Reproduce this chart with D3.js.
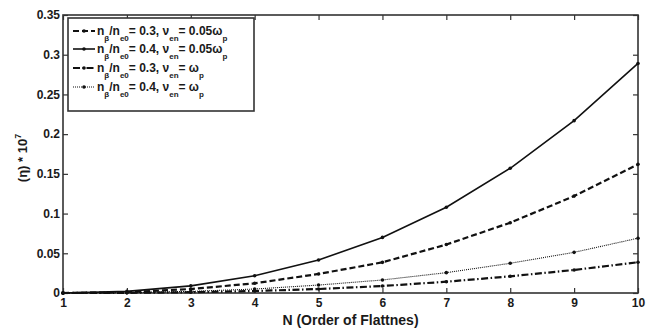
<!DOCTYPE html>
<html>
<head>
<meta charset="utf-8">
<script src="https://cdn.jsdelivr.net/npm/d3@7"></script>
<style>
  body { margin: 0; background: white; }
  text { font-family: "Liberation Sans", Arial, sans-serif; font-weight: bold; fill: #1a1a1a; }
</style>
</head>
<body>
<div id="container"></div>
<script>
let w = 657;
let h = 331;

let nValues = [1, 2, 3, 4, 5, 6, 7, 8, 9, 10];
let xTicks = [1, 2, 3, 4, 5, 6, 7, 8, 9, 10];
let yTicks = [0, 0.05, 0.1, 0.15, 0.2, 0.25, 0.3, 0.35];
let yTickLabels = ["0", "0.05", "0.1", "0.15", "0.2", "0.25", "0.3", "0.35"];

// eta * 1e7 for each N
let etaA = [0, 0.001, 0.005, 0.0122, 0.024, 0.0386, 0.061, 0.0885, 0.122, 0.162];  // nb/ne0=0.3, nu=0.05wp
let etaB = [0, 0.002, 0.009, 0.0218, 0.0415, 0.070, 0.108, 0.157, 0.217, 0.289];   // nb/ne0=0.4, nu=0.05wp
let etaC = [0, 0.0002, 0.001, 0.0025, 0.005, 0.0088, 0.0142, 0.021, 0.029, 0.0387]; // nb/ne0=0.3, nu=wp
let etaD = [0, 0.0005, 0.002, 0.005, 0.010, 0.0164, 0.0256, 0.0374, 0.0512, 0.069]; // nb/ne0=0.4, nu=wp

let ratioLabels = ["0.3", "0.4", "0.3", "0.4"];
let nuLabels = ["0.05", "0.05", "", ""];

let margin = { left: 63, right: 19, top: 15, bottom: 38 };

let viz = d3.select("#container")
  .append("svg")
  .attr("width", w)
  .attr("height", h)
  .style("background-color", "white");

let x = d3.scaleLinear().domain([1, 10]).range([margin.left, w - margin.right]);
let y = d3.scaleLinear().domain([0, 0.35]).range([h - margin.bottom, margin.top]);

let series = [
  { values: etaA, dash: "6,3", width: 2.2, ratio: ratioLabels[0], nu: nuLabels[0] },
  { values: etaB, dash: null, width: 1.6, ratio: ratioLabels[1], nu: nuLabels[1] },
  { values: etaC, dash: "7,2.5,1.5,2.5", width: 2.2, ratio: ratioLabels[2], nu: nuLabels[2] },
  { values: etaD, dash: "1,1", width: 1.1, ratio: ratioLabels[3], nu: nuLabels[3] }
];

// axes, MATLAB style with inward ticks on all sides
let tickLen = 5;
viz.append("g")
  .attr("transform", "translate(0," + y(0) + ")")
  .call(d3.axisBottom(x).tickValues(xTicks).tickSize(-tickLen).tickPadding(5).tickFormat(d3.format("d")))
  .call(g => g.select(".domain").remove())
  .call(g => g.selectAll("text").style("font-size", "12px").style("font-family", "Liberation Sans, Arial").style("font-weight", "bold").attr("fill", "#1a1a1a"));

viz.append("g")
  .attr("transform", "translate(0," + y(0.35) + ")")
  .call(d3.axisTop(x).tickValues(xTicks).tickSize(-tickLen).tickFormat(""))
  .call(g => g.select(".domain").remove());

viz.append("g")
  .attr("transform", "translate(" + x(1) + ",0)")
  .call(d3.axisLeft(y).tickValues(yTicks).tickSize(-tickLen).tickPadding(3).tickFormat((d, i) => yTickLabels[i]))
  .call(g => g.select(".domain").remove())
  .call(g => g.selectAll("text").style("font-size", "12px").style("font-family", "Liberation Sans, Arial").style("font-weight", "bold").attr("fill", "#1a1a1a"));

viz.append("g")
  .attr("transform", "translate(" + x(10) + ",0)")
  .call(d3.axisRight(y).tickValues(yTicks).tickSize(-tickLen).tickFormat(""))
  .call(g => g.select(".domain").remove());

viz.selectAll(".tick line").attr("stroke", "#333").attr("stroke-width", 1.2);

viz.append("rect")
  .attr("x", x(1))
  .attr("y", y(0.35))
  .attr("width", x(10) - x(1))
  .attr("height", y(0) - y(0.35))
  .attr("fill", "none")
  .attr("stroke", "#333")
  .attr("stroke-width", 1.6);

// lines
let line = d3.line()
  .x((d, i) => x(nValues[i]))
  .y(d => y(d));

let lineGroup = viz.append("g").attr("class", "lines");

series.forEach(s => {
  lineGroup.append("path")
    .datum(s.values)
    .attr("d", line)
    .attr("fill", "none")
    .attr("stroke", "#111")
    .attr("stroke-width", s.width)
    .attr("stroke-dasharray", s.dash);

  lineGroup.selectAll(null)
    .data(s.values)
    .enter()
    .append("circle")
    .attr("cx", (d, i) => x(nValues[i]))
    .attr("cy", d => y(d))
    .attr("r", 1.8)
    .attr("fill", "#111");
});

// axis labels
viz.append("text")
  .attr("x", (x(1) + x(10)) / 2)
  .attr("y", 325)
  .attr("text-anchor", "middle")
  .style("font-size", "14px")
  .text("N (Order of Flattnes)");

let yLabel = viz.append("text")
  .attr("transform", "translate(27," + 158 + ") rotate(-90)")
  .attr("text-anchor", "middle")
  .style("font-size", "13px");
yLabel.append("tspan").text("(η) * 10");
yLabel.append("tspan").attr("dy", -6).style("font-size", "9px").text("7");

// legend
let legend = viz.append("g").attr("class", "legend");
legend.append("rect")
  .attr("x", 68)
  .attr("y", 18)
  .attr("width", 186)
  .attr("height", 93)
  .attr("fill", "white")
  .attr("stroke", "#333")
  .attr("stroke-width", 1.6);

let rowY = [31, 49, 68, 87];

series.forEach((s, i) => {
  let ly = rowY[i];
  legend.append("line")
    .attr("x1", 73)
    .attr("x2", 95)
    .attr("y1", ly)
    .attr("y2", ly)
    .attr("stroke", "#111")
    .attr("stroke-width", s.width)
    .attr("stroke-dasharray", s.dash);
  legend.append("circle")
    .attr("cx", 84)
    .attr("cy", ly)
    .attr("r", 1.8)
    .attr("fill", "#111");

  let t = legend.append("text")
    .attr("x", 97)
    .attr("y", ly + 4)
    .style("font-size", "12px");
  t.append("tspan").text("n");
  t.append("tspan").attr("dy", 6).style("font-size", "8px").text("β");
  t.append("tspan").attr("dy", -6).text("/n");
  t.append("tspan").attr("dy", 6).style("font-size", "8px").text("e0");
  t.append("tspan").attr("dy", -6).text("= " + s.ratio + ", ν");
  t.append("tspan").attr("dy", 6).style("font-size", "8px").text("en");
  t.append("tspan").attr("dy", -6).text("= " + s.nu + "ω");
  t.append("tspan").attr("dy", 6).style("font-size", "8px").text("p");
});
</script>
</body>
</html>
